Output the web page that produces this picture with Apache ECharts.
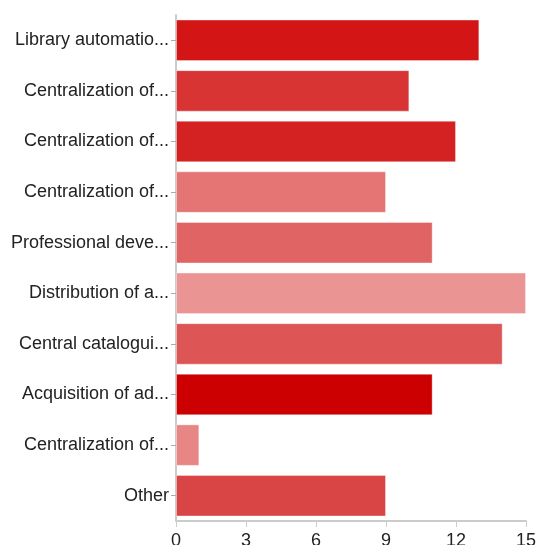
<!DOCTYPE html>
<html>
<head>
<meta charset="utf-8">
<script src="https://cdn.jsdelivr.net/npm/echarts@6/dist/echarts.min.js"></script>
<style>
  html, body { margin: 0; padding: 0; background: #fff; }
  #chart { width: 539px; height: 545px; }
</style>
</head>
<body>
<div id="chart"></div>
<script>
// labels as they appear (truncated) in the picture
const categories = [
  'Library automatio...',
  'Centralization of...',
  'Centralization of...',
  'Centralization of...',
  'Professional deve...',
  'Distribution of a...',
  'Central catalogui...',
  'Acquisition of ad...',
  'Centralization of...',
  'Other'
];
const counts = [13, 10, 12, 9, 11, 15, 14, 11, 1, 9];
const barColors = [
  '#d41515', '#d93434', '#d42222', '#e57575', '#e06464',
  '#ea9494', '#de5555', '#cc0000', '#e88686', '#d94444'
];
const xTicks = [0, 3, 6, 9, 12, 15];

const chart = echarts.init(document.getElementById('chart'));

const option = {
  animation: false,
  grid: {
    left: 176,
    right: 13,
    top: 15,
    bottom: 24,
    containLabel: false,
    outerBoundsMode: 'none'
  },
  xAxis: {
    type: 'value',
    min: xTicks[0],
    max: xTicks[xTicks.length - 1],
    interval: 3,
    splitLine: { show: false },
    axisLine: { show: true, lineStyle: { color: '#cccccc', width: 2 } },
    axisTick: { show: true, length: 6, lineStyle: { color: '#cccccc' } },
    axisLabel: {
      color: '#222',
      fontFamily: 'Liberation Sans, Arial, sans-serif',
      fontSize: 18,
      margin: 11
    }
  },
  yAxis: {
    type: 'category',
    inverse: true,
    data: categories,
    axisLine: { show: true, lineStyle: { color: '#cccccc', width: 2 } },
    axisTick: { show: true, alignWithLabel: true, length: 5, lineStyle: { color: '#aaa' } },
    axisLabel: {
      color: '#222',
      fontFamily: 'Liberation Sans, Arial, sans-serif',
      fontSize: 18,
      margin: 7
    }
  },
  series: [
    {
      type: 'bar',
      barCategoryGap: '18%',
      data: counts.map((v, i) => ({
        value: v,
        itemStyle: {
          color: barColors[i],
          borderColor: 'rgba(255,255,255,0.35)',
          borderWidth: 1
        }
      }))
    }
  ]
};

chart.setOption(option);
</script>
</body>
</html>
